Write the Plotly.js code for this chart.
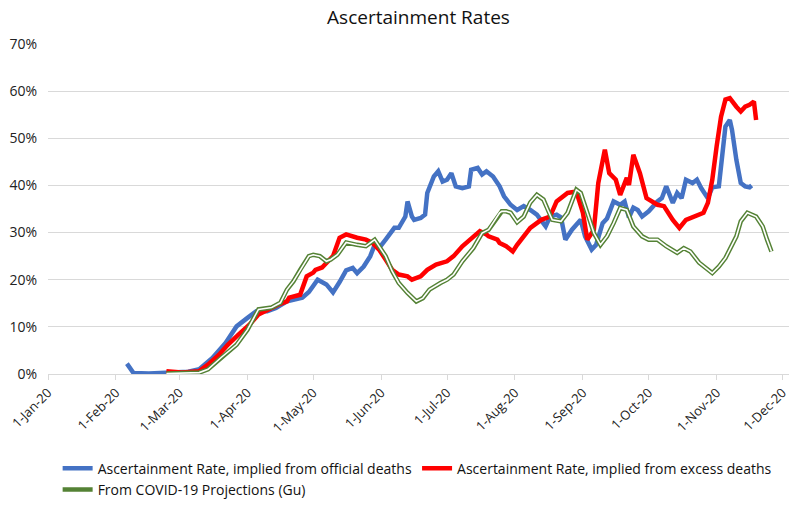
<!DOCTYPE html>
<html>
<head>
<meta charset="utf-8">
<script src="https://cdn.plot.ly/plotly-3.0.1.min.js"></script>
<style>html,body{margin:0;padding:0;background:#fff;}#chart{width:811px;height:507px;}</style>
</head>
<body>
<div id="chart"></div>
<script>
// Ascertainment rate implied from official deaths (%)
const officialDates = ["2020-02-06","2020-02-08","2020-02-09","2020-02-16","2020-02-24","2020-03-01","2020-03-05","2020-03-10","2020-03-16","2020-03-22","2020-03-27","2020-04-01","2020-04-05","2020-04-10","2020-04-14","2020-04-19","2020-04-22","2020-04-26","2020-04-29","2020-05-03","2020-05-07","2020-05-10","2020-05-13","2020-05-16","2020-05-19","2020-05-21","2020-05-24","2020-05-27","2020-05-29","2020-05-31","2020-06-03","2020-06-05","2020-06-07","2020-06-09","2020-06-12","2020-06-13","2020-06-15","2020-06-16","2020-06-19","2020-06-21","2020-06-22","2020-06-25","2020-06-27","2020-06-29","2020-07-01","2020-07-03","2020-07-05","2020-07-08","2020-07-11","2020-07-12","2020-07-15","2020-07-17","2020-07-19","2020-07-22","2020-07-25","2020-07-27","2020-07-30","2020-08-02","2020-08-05","2020-08-08","2020-08-11","2020-08-15","2020-08-17","2020-08-20","2020-08-22","2020-08-24","2020-08-27","2020-08-31","2020-09-02","2020-09-05","2020-09-07","2020-09-10","2020-09-12","2020-09-15","2020-09-18","2020-09-20","2020-09-22","2020-09-24","2020-09-26","2020-09-28","2020-10-01","2020-10-05","2020-10-07","2020-10-09","2020-10-12","2020-10-14","2020-10-16","2020-10-18","2020-10-21","2020-10-23","2020-10-25","2020-10-28","2020-10-30","2020-11-02","2020-11-03","2020-11-05","2020-11-07","2020-11-08","2020-11-10","2020-11-12","2020-11-14","2020-11-16","2020-11-17"];
const officialRate = [2.2,0.8,0.2,0.1,0.2,0.3,0.5,1.0,3.4,6.6,10.1,11.9,13.3,13.3,14.0,15.4,15.8,16.2,17.4,20.0,19.0,17.3,19.5,22.0,22.5,21.4,22.8,25.0,27.4,26.7,28.5,29.9,31.0,31.0,33.4,36.6,33.4,32.7,33.1,33.8,38.4,41.9,43.0,40.8,41.2,42.6,39.8,39.4,39.8,43.3,43.7,42.3,43.0,41.9,39.8,37.7,35.9,34.8,35.6,34.8,33.8,31.3,33.4,33.8,33.2,28.5,30.6,32.7,29.2,26.4,27.4,32.0,33.0,36.6,35.9,36.6,33.2,35.3,34.8,33.4,34.5,36.6,37.3,39.8,36.3,38.4,37.3,41.2,40.5,41.2,39.4,37.3,39.6,39.8,44.8,52.5,53.9,51.8,45.4,40.5,39.8,39.6,40.0];

// Ascertainment rate implied from excess deaths (%)
const excessDates = ["2020-02-24","2020-03-02","2020-03-10","2020-03-14","2020-03-19","2020-03-23","2020-03-28","2020-04-02","2020-04-06","2020-04-12","2020-04-15","2020-04-19","2020-04-20","2020-04-25","2020-04-28","2020-05-01","2020-05-02","2020-05-05","2020-05-07","2020-05-10","2020-05-13","2020-05-16","2020-05-21","2020-05-25","2020-05-28","2020-05-31","2020-06-03","2020-06-06","2020-06-09","2020-06-13","2020-06-15","2020-06-19","2020-06-22","2020-06-26","2020-07-01","2020-07-04","2020-07-08","2020-07-13","2020-07-16","2020-07-19","2020-07-20","2020-07-24","2020-07-25","2020-07-28","2020-07-31","2020-08-02","2020-08-07","2020-08-08","2020-08-13","2020-08-17","2020-08-20","2020-08-25","2020-08-29","2020-09-01","2020-09-03","2020-09-06","2020-09-08","2020-09-11","2020-09-13","2020-09-16","2020-09-18","2020-09-21","2020-09-22","2020-09-24","2020-09-27","2020-09-30","2020-10-05","2020-10-08","2020-10-12","2020-10-15","2020-10-18","2020-10-23","2020-10-26","2020-10-28","2020-10-30","2020-11-01","2020-11-03","2020-11-05","2020-11-07","2020-11-10","2020-11-12","2020-11-14","2020-11-16","2020-11-18","2020-11-19"];
const excessRate = [0.6,0.3,0.6,2.0,4.1,6.2,8.4,10.5,12.6,14.1,14.7,15.4,16.2,16.8,20.7,21.5,22.1,22.6,23.6,25.0,28.9,29.6,28.9,28.5,27.8,26.4,24.3,22.1,21.1,20.7,20.0,20.7,22.1,23.2,23.9,25.0,27.1,29.2,30.3,29.6,29.2,28.5,27.8,27.1,26.0,27.4,30.6,31.0,32.7,33.4,36.6,38.4,38.7,34.2,28.5,30.6,40.5,47.6,42.6,41.2,38.0,41.6,40.1,46.5,42.6,37.3,35.9,35.6,32.7,31.0,32.7,33.8,34.2,36.3,41.2,48.3,54.6,58.2,58.5,56.7,55.7,56.7,57.1,57.8,53.9];

// From COVID-19 Projections (Gu) (%)
const guDates = ["2020-02-24","2020-03-10","2020-03-14","2020-03-20","2020-03-27","2020-04-01","2020-04-06","2020-04-12","2020-04-16","2020-04-19","2020-04-22","2020-04-25","2020-04-26","2020-04-29","2020-05-01","2020-05-04","2020-05-07","2020-05-09","2020-05-12","2020-05-16","2020-05-21","2020-05-25","2020-05-29","2020-05-31","2020-06-03","2020-06-06","2020-06-09","2020-06-13","2020-06-17","2020-06-20","2020-06-23","2020-06-28","2020-07-01","2020-07-04","2020-07-08","2020-07-13","2020-07-17","2020-07-20","2020-07-22","2020-07-25","2020-07-26","2020-07-28","2020-07-30","2020-08-02","2020-08-05","2020-08-08","2020-08-11","2020-08-14","2020-08-16","2020-08-18","2020-08-22","2020-08-25","2020-08-29","2020-08-31","2020-09-03","2020-09-06","2020-09-09","2020-09-12","2020-09-15","2020-09-18","2020-09-21","2020-09-24","2020-09-28","2020-10-01","2020-10-05","2020-10-09","2020-10-14","2020-10-17","2020-10-20","2020-10-24","2020-10-30","2020-11-02","2020-11-05","2020-11-10","2020-11-12","2020-11-15","2020-11-19","2020-11-22","2020-11-24","2020-11-26"];
const guRate = [0.1,0.3,1.0,3.5,6.2,9.4,13.7,14.1,15.1,17.9,19.7,22.1,22.8,25.0,25.3,25.0,23.9,24.3,25.3,27.9,27.4,27.1,28.5,27.1,25.0,21.8,19.3,17.2,15.4,16.1,17.9,19.3,20.0,21.1,23.9,26.7,29.9,30.6,32.0,34.2,34.5,34.5,34.2,32.2,33.4,36.4,38.0,37.0,34.8,32.7,32.4,34.2,39.1,38.4,34.2,29.9,27.4,29.2,32.0,35.2,34.8,31.3,29.2,28.5,28.5,27.1,25.7,26.7,26.0,23.6,21.4,22.8,24.6,29.2,32.4,34.2,33.4,31.3,28.5,26.0];

const seriesNames = ["Ascertainment Rate, implied from official deaths","Ascertainment Rate, implied from excess deaths","From COVID-19 Projections (Gu)"];
const yTicks = [0,10,20,30,40,50,60,70];
const yTickText = yTicks.map(v => v + '%');

const FONT = "'Open Sans', Lato, sans-serif";
const traces = [
  {x: officialDates, y: officialRate, name: seriesNames[0], type: 'scatter', mode: 'lines',
   line: {color: '#4472C4', width: 4.5}},
  {x: excessDates, y: excessRate, name: seriesNames[1], type: 'scatter', mode: 'lines',
   line: {color: '#FF0000', width: 4.5}},
  {x: guDates, y: guRate, name: seriesNames[2], type: 'scatter', mode: 'lines',
   line: {color: '#548235', width: 4.5}, legendgroup: 'gu'},
  {x: guDates, y: guRate, name: seriesNames[2], type: 'scatter', mode: 'lines',
   line: {color: '#FFFFFF', width: 1.6}, legendgroup: 'gu', showlegend: false, hoverinfo: 'skip'}
];

const layout = {
  width: 811, height: 507,
  paper_bgcolor: '#fff', plot_bgcolor: '#fff',
  margin: {l: 48.3, r: 22, t: 44, b: 132.5, autoexpand: false},
  font: {family: FONT, color: '#222', size: 13},
  title: {text: 'Ascertainment Rates', font: {family: FONT, size: 19, color: '#111'},
          x: 0.5, xref: 'paper', y: 0.966, yanchor: 'middle'},
  xaxis: {type: 'date', range: ['2020-01-01', '2020-12-04'],
          tick0: '2020-01-01', dtick: 'M1', tickformat: '%-d-%b-%y', tickangle: -45,
          ticks: 'outside', ticklen: 5, tickcolor: '#d9d9d9', showgrid: false,
          showline: true, linecolor: '#d9d9d9', linewidth: 1, zeroline: false, automargin: false,
          tickfont: {size: 13, color: '#222'}, fixedrange: true},
  yaxis: {range: [0, 70], tickmode: 'array', tickvals: yTicks, ticktext: yTickText, showgrid: true,
          gridcolor: '#d9d9d9', gridwidth: 1, zeroline: false, showline: false, automargin: false,
          ticklabelstandoff: 10,
          tickfont: {size: 14, color: '#222'}, ticks: '', fixedrange: true},
  showlegend: true,
  legend: {orientation: 'h', x: 0.013, xanchor: 'left', yref: 'container', y: 0.107, yanchor: 'top',
           font: {size: 14, color: '#111'}, traceorder: 'normal',
           bgcolor: 'rgba(0,0,0,0)'}
};

Plotly.newPlot('chart', traces, layout, {displayModeBar: false, staticPlot: true});
</script>
</body>
</html>
